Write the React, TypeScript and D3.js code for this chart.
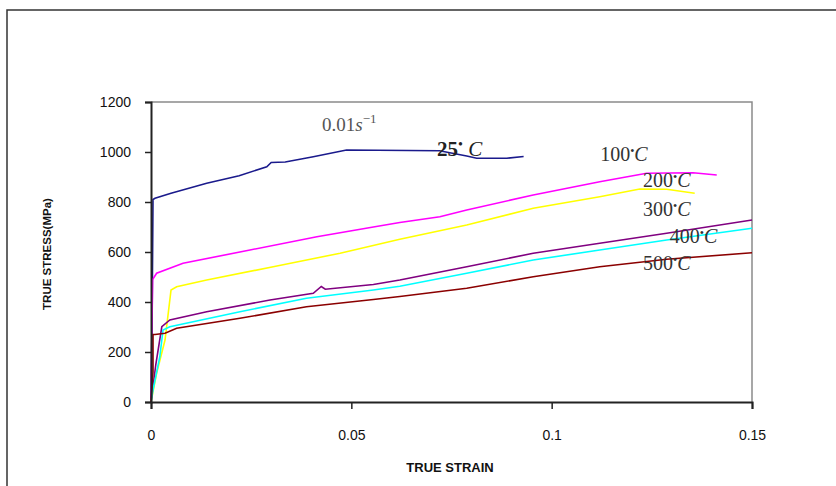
import React, { useRef, useEffect } from "react";
import * as d3 from "d3";

// true strain / true stress (MPa), 0.01 s^-1
const strain25 = [0, 0.0003, 0.0005, 0.001, 0.005, 0.0139, 0.022, 0.0289, 0.03, 0.0335, 0.0405, 0.0488, 0.072, 0.0788, 0.0813, 0.0888, 0.093];
const stress25 = [0, 380, 810, 815, 835, 875, 905, 941, 958, 960, 981, 1008, 1005, 984, 975, 975, 982];

const strain100 = [0, 0.0004, 0.0014, 0.008, 0.0247, 0.0414, 0.0555, 0.0621, 0.0721, 0.0788, 0.0954, 0.112, 0.1237, 0.1353, 0.1412];
const stress100 = [0, 490, 515, 555, 608, 661, 700, 718, 741, 768, 828, 881, 915, 917, 908];

const strain200 = [0, 0.0014, 0.0035, 0.005, 0.0064, 0.0139, 0.0305, 0.0472, 0.0621, 0.0788, 0.0954, 0.112, 0.122, 0.1287, 0.1357];
const stress200 = [0, 115, 248, 448, 461, 488, 541, 595, 651, 708, 775, 821, 852, 851, 835];

const strain300 = [0, 0.0012, 0.0027, 0.0047, 0.0139, 0.0297, 0.0405, 0.0425, 0.0435, 0.0555, 0.0621, 0.0788, 0.0954, 0.112, 0.1287, 0.15];
const stress300 = [0, 150, 301, 328, 361, 408, 435, 462, 451, 470, 488, 541, 595, 635, 675, 728];

const strain400 = [0, 0.0005, 0.0022, 0.003, 0.0047, 0.0222, 0.0388, 0.0555, 0.0621, 0.0788, 0.0954, 0.112, 0.1287, 0.15];
const stress400 = [0, 48, 181, 288, 301, 361, 415, 448, 463, 515, 568, 608, 648, 695];

const strain500 = [0, 0.0005, 0.0005, 0.001, 0.0035, 0.0064, 0.0222, 0.0388, 0.0555, 0.0621, 0.0788, 0.0954, 0.112, 0.1287, 0.15];
const stress500 = [0, 120, 270, 270, 275, 295, 335, 381, 410, 422, 455, 501, 541, 571, 597];

const series = [
  { name: "25", strain: strain25, stress: stress25, color: "#1a1a8c" },
  { name: "100", strain: strain100, stress: stress100, color: "#ff00ff" },
  { name: "200", strain: strain200, stress: stress200, color: "#ffff00" },
  { name: "300", strain: strain300, stress: stress300, color: "#800080" },
  { name: "400", strain: strain400, stress: stress400, color: "#00ffff" },
  { name: "500", strain: strain500, stress: stress500, color: "#8b0000" },
];

const xTicks = [0, 0.05, 0.1, 0.15];
const xTickLabels = ["0", "0.05", "0.1", "0.15"];
const yTicks = [0, 200, 400, 600, 800, 1000, 1200];

// temperature labels: [text, strain, stress] anchor positions
const tempLabels: [string, number, number][] = [
  ["100", 0.1121, 963],
  ["200", 0.1228, 862],
  ["300", 0.1228, 745],
  ["400", 0.1295, 637],
  ["500", 0.1228, 530],
];

const App = () => {
  const svgRef = useRef<SVGSVGElement>(null);

  useEffect(() => {
    const svg = d3.select(svgRef.current);
    svg.selectAll("*").remove();

    const width = 836;
    const height = 486;
    const margin = { top: 102, right: 84, bottom: 84, left: 151 };

    const x = d3.scaleLinear().domain([0, 0.15]).range([margin.left, width - margin.right]);
    const y = d3.scaleLinear().domain([0, 1200]).range([height - margin.bottom, margin.top]);

    // outer frame
    svg
      .append("rect")
      .attr("x", 7)
      .attr("y", 10)
      .attr("width", 840)
      .attr("height", 490)
      .attr("fill", "white")
      .attr("stroke", "#333")
      .attr("stroke-width", 1.5);

    // plot frame top/right
    svg
      .append("path")
      .attr("d", `M${x(0)},${y(1200)}H${x(0.15)}V${y(0)}`)
      .attr("fill", "none")
      .attr("stroke", "#8a8a8a")
      .attr("stroke-width", 1.5);

    const line = d3
      .line<[number, number]>()
      .x((d) => x(d[0]))
      .y((d) => y(d[1]));

    series.forEach((s) => {
      svg
        .append("path")
        .datum(s.strain.map((v, i) => [v, s.stress[i]] as [number, number]))
        .attr("fill", "none")
        .attr("stroke", s.color)
        .attr("stroke-width", 1.6)
        .attr("d", line);
    });

    // axes
    const yAxis = svg
      .append("g")
      .attr("transform", `translate(${x(0)},0)`)
      .call(d3.axisLeft(y).tickValues(yTicks).tickSize(6).tickPadding(14).tickFormat(d3.format("d")));
    const xAxis = svg
      .append("g")
      .attr("transform", `translate(0,${y(0)})`)
      .call(
        d3
          .axisBottom(x)
          .tickValues(xTicks)
          .tickSize(7)
          .tickPadding(21)
          .tickFormat((d, i) => xTickLabels[i])
      );
    [yAxis, xAxis].forEach((g) => {
      g.select(".domain").attr("stroke", "#222").attr("stroke-width", 2);
      g.selectAll(".tick line").attr("stroke", "#222").attr("stroke-width", 1.5);
      g.selectAll(".tick text")
        .attr("fill", "#111")
        .style("font-family", "Liberation Sans, Arial, sans-serif")
        .style("font-size", "14px");
    });

    // axis titles
    svg
      .append("text")
      .attr("transform", `translate(51,${(y(0) + y(1200)) / 2 + 2}) rotate(-90)`)
      .attr("text-anchor", "middle")
      .style("font-family", "Liberation Sans, Arial, sans-serif")
      .style("font-size", "11.5px")
      .style("font-weight", "bold")
      .attr("fill", "#111")
      .text("TRUE STRESS(MPa)");
    svg
      .append("text")
      .attr("x", 450)
      .attr("y", 472)
      .attr("text-anchor", "middle")
      .style("font-family", "Liberation Sans, Arial, sans-serif")
      .style("font-size", "13px")
      .style("font-weight", "bold")
      .attr("fill", "#111")
      .text("TRUE STRAIN");

    const serif = "Liberation Serif, Times New Roman, serif";

    // strain rate label
    const rate = svg
      .append("text")
      .attr("x", 322)
      .attr("y", 131)
      .style("font-family", serif)
      .style("font-size", "19px")
      .attr("fill", "#555");
    rate.append("tspan").text("0.01");
    rate.append("tspan").style("font-style", "italic").text("s");
    rate.append("tspan").attr("dy", -8).style("font-size", "13px").text("\u2212");
    rate.append("tspan").style("font-size", "13px").text("1");

    // 25 C label
    const t25 = svg
      .append("text")
      .attr("x", 437)
      .attr("y", 156)
      .style("font-family", serif)
      .style("font-size", "21px")
      .attr("fill", "#222");
    t25.append("tspan").style("font-weight", "bold").text("25");
    t25.append("tspan").attr("dy", -7).style("font-size", "14px").text("\u2022");
    t25.append("tspan").attr("dy", 7).style("font-style", "italic").text(" C");

    tempLabels.forEach(([t, sx, sy]) => {
      const txt = svg
        .append("text")
        .attr("x", x(sx))
        .attr("y", y(sy))
        .style("font-family", serif)
        .style("font-size", "20px")
        .attr("fill", "#333");
      txt.append("tspan").text(t);
      txt.append("tspan").attr("dy", -6).style("font-size", "12px").text("\u2022");
      txt.append("tspan").attr("dy", 6).style("font-style", "italic").text("C");
    });
  }, []);

  return (
    <svg
      ref={svgRef}
      width={836}
      height={486}
      style={{ position: "absolute", left: 0, top: 0, display: "block" }}
    />
  );
};

export default App;
